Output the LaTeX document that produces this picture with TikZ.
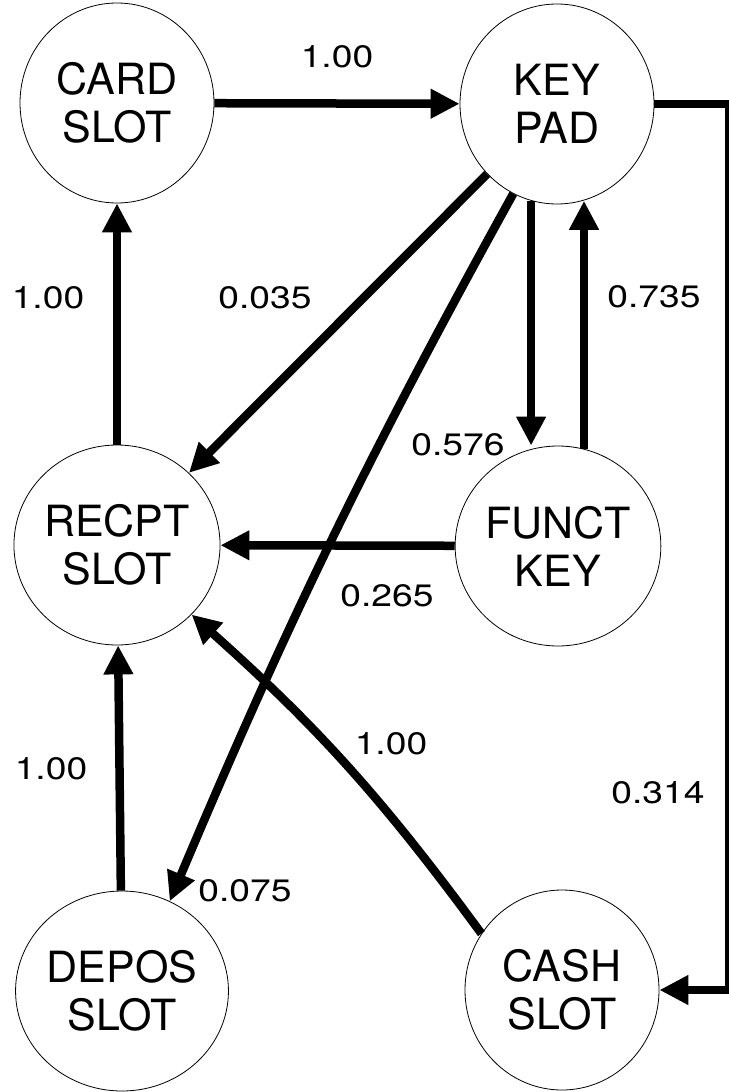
\documentclass[tikz,border=0pt]{standalone}
\usepackage{fontspec}
\setmainfont{TeX Gyre Heros}
\newfontfamily\labfont[FakeStretch=1.2]{TeX Gyre Heros}
\usetikzlibrary{arrows.meta,shapes.geometric}
\begin{document}
\begin{tikzpicture}[x=1pt,y=-1pt,
  state/.style={draw, line width=0.8pt, ellipse, minimum width=194pt, minimum height=200pt,
    inner sep=0pt, align=center, font=\fontsize{43}{48}\selectfont},
  flow/.style={line width=8.5pt, -{Triangle[length=29pt,width=28pt]}},
  lab/.style={font=\labfont\fontsize{31}{36}\selectfont, inner sep=0pt}]
\useasboundingbox (0,0) rectangle (728,1092);
% nodes
\node[state] (card)  at (117,103) {CARD\\SLOT};
\node[state] (key)   at (557,104) {KEY\\PAD};
\node[state] (recpt) at (117,545) {RECPT\\SLOT};
\node[state] (funct) at (558,546) {FUNCT\\KEY};
\node[state] (depos) at (122,991) {DEPOS\\SLOT};
\node[state] (cash)  at (562,990) {CASH\\SLOT};
\coordinate (rc) at (729,0);
% connectors
\draw[flow] (card) -- (key);
\draw[flow] (recpt) -- (card);
\draw[flow] (key) -- (recpt);
\draw[flow] (key.244) to[bend right=3] (depos.62);
\draw[flow] (key.255) -- (key.255 |- funct.north);
\draw[flow] (funct.75) -- (funct.75 |- key.285);
\draw[flow] (funct) -- (recpt);
\draw[flow] (depos) -- (recpt);
\draw[flow] (cash.145) to[bend right=6] (recpt.317);
\draw[flow] (key.east) -- (key.east -| rc) |- (cash.east);
% labels
\node[lab] (l1)  at (337,57)  {1.00};
\node[lab] (l2)  at (48,298)  {1.00};
\node[lab] (l3)  at (265,298) {0.035};
\node[lab] (l4)  at (654,297) {0.735};
\node[lab] (l5)  at (458,445) {0.576};
\node[lab] (l6)  at (387,596) {0.265};
\node[lab] (l7)  at (391,744) {1.00};
\node[lab] (l8)  at (51,769)  {1.00};
\node[lab] (l9)  at (658,793) {0.314};
\node[lab] (l10) at (245,891) {0.075};
\end{tikzpicture}
\end{document}
